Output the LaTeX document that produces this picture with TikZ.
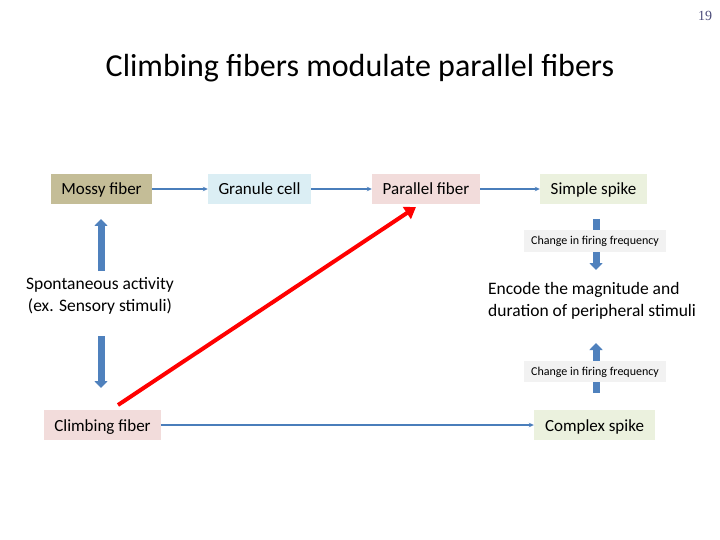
\documentclass[tikz,border=0pt]{standalone}
\usepackage{fontspec}
\setmainfont{Carlito}
\newfontfamily\pagefont{Liberation Serif}
\usetikzlibrary{arrows.meta}
\definecolor{tanfill}{HTML}{C4BD97}
\definecolor{bluefill}{HTML}{DBEEF4}
\definecolor{pinkfill}{HTML}{F2DCDB}
\definecolor{greenfill}{HTML}{EBF1DE}
\definecolor{greyfill}{HTML}{F2F2F2}
\definecolor{linkblue}{HTML}{4A7EBB}
\definecolor{blockblue}{HTML}{4F81BD}
\definecolor{pagecol}{HTML}{4B4B7A}
\tikzset{
  box/.style={inner sep=0pt, minimum height=30pt, text height=14pt, text depth=2pt, font=\fontsize{17}{20}\selectfont, text=black},
  smallbox/.style={fill=greyfill, inner sep=0pt, minimum width=142pt, minimum height=21pt, text height=9pt, text depth=2pt, font=\fontsize{12}{14}\selectfont},
  link/.style={draw=linkblue, line width=1.5pt, -{Stealth[length=5pt,width=4.5pt]}},
  blockarrow/.style={draw=blockblue, line width=7pt, -{Triangle[width=13pt,length=7pt]}},
  redarrow/.style={draw=red, line width=4pt, -{Triangle[width=14pt,length=11pt]}},
  plain/.style={font=\fontsize{17.5}{22}\selectfont, inner sep=0pt}
}
\begin{document}
\begin{tikzpicture}[x=1pt,y=-1pt]
\useasboundingbox[fill=white] (0,0) rectangle (720,540);
\node[font=\pagefont\fontsize{14}{16}\selectfont, text=pagecol] (page) at (705,16) {19};
\node[font=\fontsize{32}{36}\selectfont] (title) at (360,68) {Climbing fibers modulate parallel fibers};

\node[box, fill=tanfill, minimum width=101pt] (mossy) at (101.5,189) {Mossy fiber};
\node[box, fill=bluefill, minimum width=103pt] (granule) at (259.5,189) {Granule cell};
\node[box, fill=pinkfill, minimum width=108pt] (parallel) at (426,189) {Parallel fiber};
\node[box, fill=greenfill, minimum width=107pt] (simple) at (593.5,189) {Simple spike};
\node[box, fill=pinkfill, minimum width=117pt] (climbing) at (102.5,425) {Climbing fiber};
\node[box, fill=greenfill, minimum width=121pt] (complex) at (594.5,425) {Complex spike};

\node[plain, align=center] (spont) at (100,295.5) {Spontaneous activity\\(ex. Sensory stimuli)};
\node[plain, align=left, anchor=west] (encode) at (488,300.5) {Encode the magnitude and\\duration of peripheral stimuli};

\draw[link] (mossy.east) -- (granule.west);
\draw[link] (granule.east) -- (parallel.west);
\draw[link] (parallel.east) -- (simple.west);
\draw[link] (climbing.east) -- (complex.west);

\coordinate (lu1) at (101,271);
\coordinate (lu2) at (101,219);
\coordinate (ld1) at (101,336);
\coordinate (ld2) at (101,388);
\draw[blockarrow] (lu1) -- (lu2);
\draw[blockarrow] (ld1) -- (ld2);

\coordinate (ru1) at (596,219);
\coordinate (ru2) at (596,270);
\coordinate (rd1) at (596,393);
\coordinate (rd2) at (596,343);
\draw[blockarrow] (ru1) -- (ru2);
\draw[blockarrow] (rd1) -- (rd2);

\node[smallbox] (change1) at (595,241) {Change in firing frequency};
\node[smallbox] (change2) at (595,371.5) {Change in firing frequency};

\coordinate (redstart) at (118,405);
\coordinate (redend) at (416,207);
\draw[redarrow] (redstart) -- (redend);
\end{tikzpicture}
\end{document}
